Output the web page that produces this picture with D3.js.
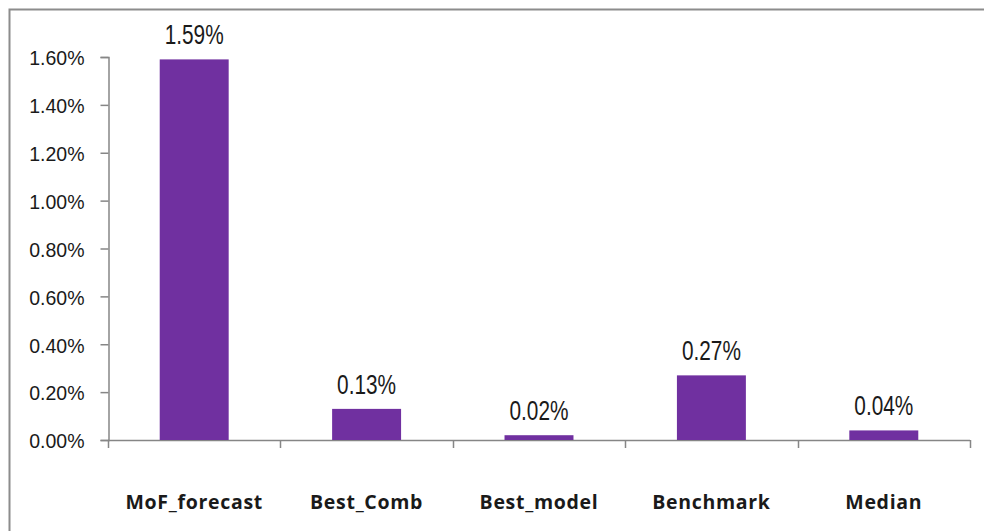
<!DOCTYPE html>
<html>
<head>
<meta charset="utf-8">
<script src="https://cdn.jsdelivr.net/npm/d3@7"></script>
<style>
  html, body { margin: 0; padding: 0; background: #fff; }
  svg { display: block; }
</style>
</head>
<body>
<svg id="chart" width="984" height="531"></svg>
<script>
// Categories and their values (percent)
const categories = ["MoF_forecast", "Best_Comb", "Best_model", "Benchmark", "Median"];
const values = [1.59, 0.13, 0.02, 0.27, 0.04];
const yTicks = [0, 0.2, 0.4, 0.6, 0.8, 1.0, 1.2, 1.4, 1.6];

const svg = d3.select("#chart");
const W = 984, H = 531;

// Outer chart frame
svg.append("rect")
  .attr("x", 9.5).attr("y", 9.5)
  .attr("width", W).attr("height", H)
  .attr("fill", "#fff")
  .attr("stroke", "#8c8c8c").attr("stroke-width", 2);

const plotLeft = 108, plotRight = 970, plotTop = 57, plotBottom = 440;

const x = d3.scaleBand()
  .domain(categories)
  .range([plotLeft, plotRight])
  .paddingInner(0.6)
  .paddingOuter(0.3);

const y = d3.scaleLinear()
  .domain([0, 1.6])
  .range([plotBottom, plotTop]);

const axisColor = "#868686";
const textColor = "#1a1a1a";

// Y axis
const yAxis = svg.append("g")
  .attr("transform", `translate(${plotLeft + 0.5},0)`)
  .call(d3.axisLeft(y).tickValues(yTicks).tickSize(8).tickPadding(16)
    .tickFormat(d => d.toFixed(2) + "%"));
yAxis.select(".domain").attr("stroke", axisColor).attr("stroke-width", 1.5);
yAxis.selectAll(".tick line").attr("stroke", axisColor).attr("stroke-width", 1.5);
yAxis.selectAll(".tick text")
  .attr("dy", "0.4em")
  .attr("font-family", "Liberation Sans, Arial, sans-serif")
  .attr("font-size", 19.5).attr("fill", textColor);

// X axis with tick marks at category boundaries
const step = x.step();
const bounds = d3.range(categories.length + 1).map(i => plotLeft + i * step);
svg.append("line")
  .attr("x1", plotLeft).attr("x2", plotRight)
  .attr("y1", plotBottom + 0.5).attr("y2", plotBottom + 0.5)
  .attr("stroke", axisColor).attr("stroke-width", 1.5);
svg.append("g").selectAll("line")
  .data(bounds)
  .join("line")
  .attr("x1", d => Math.round(d) + 0.5).attr("x2", d => Math.round(d) + 0.5)
  .attr("y1", plotBottom).attr("y2", plotBottom + 8)
  .attr("stroke", axisColor).attr("stroke-width", 1.5);

// Category labels
svg.append("g").selectAll("text")
  .data(categories)
  .join("text")
  .attr("x", d => x(d) + x.bandwidth() / 2)
  .attr("y", 509)
  .attr("text-anchor", "middle")
  .attr("font-family", "Open Sans, DejaVu Sans, sans-serif")
  .attr("font-weight", "bold")
  .attr("font-size", 19.5)
  .attr("letter-spacing", 0.7)
  .attr("fill", textColor)
  .text(d => d);

// Bars
svg.append("g").selectAll("rect")
  .data(values)
  .join("rect")
  .attr("x", (d, i) => x(categories[i]))
  .attr("y", d => y(d))
  .attr("width", x.bandwidth())
  .attr("height", d => plotBottom - y(d))
  .attr("fill", "#7030a0");

// Value labels (tall, narrow lettering)
svg.append("g").selectAll("text")
  .data(values)
  .join("text")
  .attr("transform", (d, i) =>
    `translate(${x(categories[i]) + x.bandwidth() / 2},${y(d) - 15}) scale(0.73,1)`)
  .attr("text-anchor", "middle")
  .attr("font-family", "Liberation Sans, Arial, sans-serif")
  .attr("font-size", 28.5)
  .attr("fill", textColor)
  .text(d => d.toFixed(2) + "%");
</script>
</body>
</html>
